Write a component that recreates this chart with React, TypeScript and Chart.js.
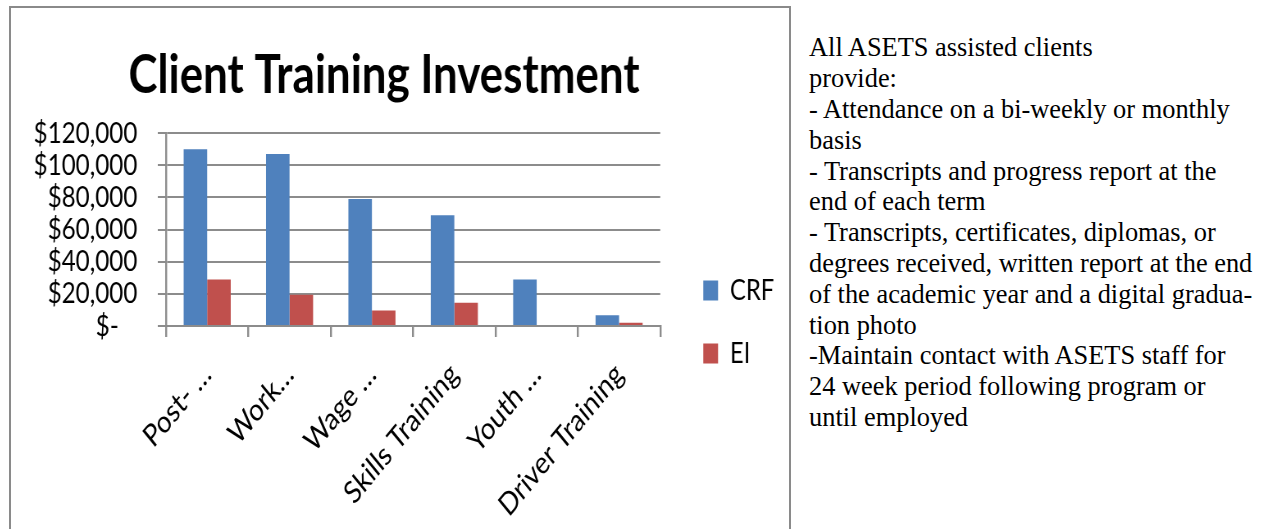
import React, { useEffect, useRef } from 'react';
import { Chart, registerables } from 'chart.js';

Chart.register(...registerables);

const categories = ['Post- …', 'Work…', 'Wage …', 'Skills Training', 'Youth …', 'Driver Training'];
const crfValues = [110000, 107000, 79000, 69000, 29000, 6700];
const eiValues = [29000, 19500, 9700, 14500, 0, 2000];
const seriesNames = ['CRF', 'EI'];
const seriesColors = ['#4F81BD', '#C0504D'];
const yTickValues = [0, 20000, 40000, 60000, 80000, 100000, 120000];
const yTickLabels = ['$-   ', '$20,000', '$40,000', '$60,000', '$80,000', '$100,000', '$120,000'];
const chartTitle = 'Client Training Investment';
const noteLines = [
  'All ASETS assisted clients',
  'provide:',
  '- Attendance on a bi-weekly or monthly',
  'basis',
  '- Transcripts and progress report at the',
  'end of each term',
  '- Transcripts, certificates, diplomas, or',
  'degrees received, written report at the end',
  'of the academic year and a digital gradua-',
  'tion photo',
  '-Maintain contact with ASETS staff for',
  '24 week period following program or',
  'until employed',
];

const SQUISH = 0.82;
const PRE_W = 949;
const PRE_H = 628;
const FONT = 'Lato, "Open Sans", sans-serif';
const GRID = '#8c8c8c';
const PAD_L = -30.7;
const PAD_R = 8.3;

export default function App() {
  const canvasRef = useRef<HTMLCanvasElement | null>(null);

  useEffect(() => {
    if (!canvasRef.current) return;
    const chart = new Chart(canvasRef.current, {
      type: 'bar',
      data: {
        labels: categories,
        datasets: [
          { label: seriesNames[0], data: crfValues, backgroundColor: seriesColors[0], borderWidth: 0 },
          { label: seriesNames[1], data: eiValues, backgroundColor: seriesColors[1], borderWidth: 0 },
        ],
      },
      options: {
        animation: false,
        responsive: true,
        maintainAspectRatio: false,
        layout: { padding: { left: PAD_L, right: PAD_R, top: 0, bottom: 0 } },
        datasets: { bar: { categoryPercentage: 2 / 3.5, barPercentage: 1 } },
        plugins: {
          title: {
            display: true,
            text: chartTitle,
            color: '#000',
            font: { family: FONT, weight: 'bold', size: 53.5 },
            padding: { top: 36, bottom: 25 },
          },
          legend: {
            position: 'right',
            labels: {
              boxWidth: 18,
              boxHeight: 20,
              padding: 34,
              color: '#000',
              font: { family: FONT, size: 29 },
            },
          },
          tooltip: { enabled: false },
        },
        scales: {
          x: {
            grid: { offset: true, drawOnChartArea: false, drawTicks: true, tickLength: 11, color: GRID, lineWidth: 2.4 },
            border: { color: GRID, width: 2 },
            ticks: {
              autoSkip: false,
              minRotation: 45,
              maxRotation: 45,
              padding: 19,
              color: '#000',
              font: { family: FONT, size: 31 },
            },
            afterFit: (s: any) => {
              s.height = PRE_H - 318;
            },
          },
          y: {
            min: 0,
            max: 120000,
            grid: { color: GRID, lineWidth: 2, tickLength: 10 },
            border: { color: GRID, width: 2.4 },
            afterBuildTicks: (s: any) => {
              s.ticks = yTickValues.map((v) => ({ value: v }));
            },
            ticks: {
              autoSkip: false,
              padding: 25,
              color: '#000',
              font: { family: FONT, size: 29.5 },
              callback: (v: any) => {
                const i = yTickValues.indexOf(Number(v));
                return i >= 0 ? yTickLabels[i] : '';
              },
            },
            afterFit: (s: any) => {
              s.width = 189 - PAD_L;
            },
          },
          y2: {
            type: 'linear',
            position: 'right',
            display: true,
            grid: { display: false },
            border: { display: false },
            ticks: { display: false },
            afterFit: (s: any) => {
              s.width = 18.5;
            },
          },
        },
      } as any,
    });
    return () => chart.destroy();
  }, []);

  return (
    <div
      style={{
        position: 'fixed',
        left: 0,
        top: 0,
        width: 1264,
        height: 529,
        overflow: 'hidden',
        background: '#fff',
      }}
    >
      <div
        style={{
          position: 'absolute',
          left: 9,
          top: 6,
          width: 778,
          height: 700,
          border: '2px solid #8a8a8a',
          overflow: 'hidden',
        }}
      >
        <div
          style={{
            position: 'absolute',
            left: 0,
            top: 0,
            width: PRE_W,
            height: PRE_H,
            transform: `scaleX(${SQUISH})`,
            transformOrigin: '0 0',
          }}
        >
          <canvas ref={canvasRef} />
        </div>
      </div>
      <div
        style={{
          position: 'absolute',
          left: 809,
          top: 32.4,
          fontFamily: '"Liberation Serif", "Times New Roman", serif',
          fontSize: 26.4,
          lineHeight: '30.8px',
          color: '#000',
          whiteSpace: 'nowrap',
        }}
      >
        {noteLines.map((line, i) => (
          <div key={i}>{line}</div>
        ))}
      </div>
    </div>
  );
}
